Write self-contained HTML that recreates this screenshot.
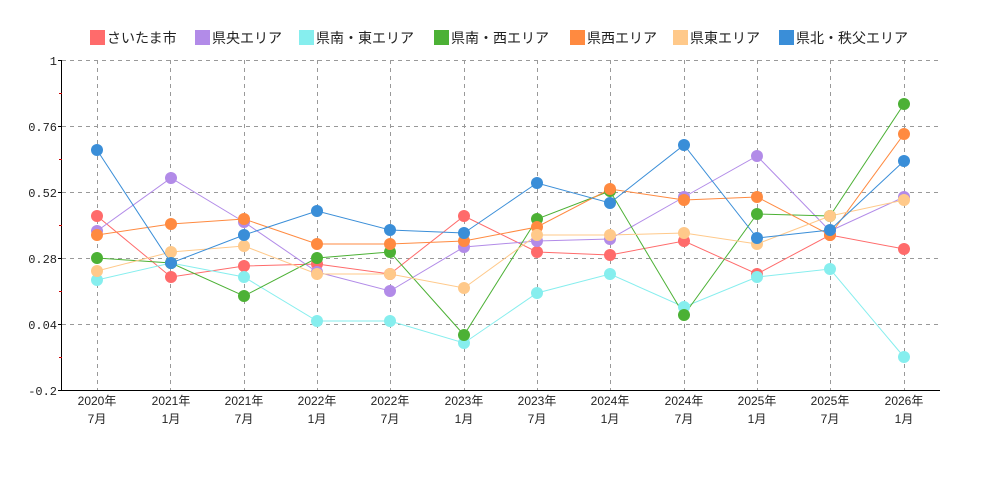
<!DOCTYPE html><html><head><meta charset="utf-8"><style>body{margin:0;background:#fff}svg{display:block;font-family:"Liberation Mono","Noto Sans CJK JP",monospace}</style></head><body>
<svg width="1000" height="500" xmlns="http://www.w3.org/2000/svg">
<g font-size="14" font-family="Liberation Sans,Noto Sans CJK JP,sans-serif" fill="#222">
<rect x="90" y="30" width="15" height="15" fill="#ff6b6b"/><text x="107" y="43">さいたま市</text>
<rect x="195" y="30" width="15" height="15" fill="#b28be8"/><text x="212" y="43">県央エリア</text>
<rect x="299" y="30" width="15" height="15" fill="#86eeee"/><text x="316" y="43">県南・東エリア</text>
<rect x="434" y="30" width="15" height="15" fill="#4cb135"/><text x="451" y="43">県南・西エリア</text>
<rect x="570" y="30" width="15" height="15" fill="#ff8a40"/><text x="587" y="43">県西エリア</text>
<rect x="673" y="30" width="15" height="15" fill="#ffc98a"/><text x="690" y="43">県東エリア</text>
<rect x="779" y="30" width="15" height="15" fill="#3a8ed8"/><text x="796" y="43">県北・秩父エリア</text>
</g>
<g stroke="#999" stroke-dasharray="4,4" stroke-width="1">
<line x1="62" x2="940" y1="60.5" y2="60.5"/><line x1="62" x2="940" y1="126.5" y2="126.5"/><line x1="62" x2="940" y1="192.5" y2="192.5"/><line x1="62" x2="940" y1="258.5" y2="258.5"/><line x1="62" x2="940" y1="324.5" y2="324.5"/>
<line x1="97.5" x2="97.5" y1="60" y2="390"/><line x1="170.5" x2="170.5" y1="60" y2="390"/><line x1="244.5" x2="244.5" y1="60" y2="390"/><line x1="317.5" x2="317.5" y1="60" y2="390"/><line x1="390.5" x2="390.5" y1="60" y2="390"/><line x1="464.5" x2="464.5" y1="60" y2="390"/><line x1="537.5" x2="537.5" y1="60" y2="390"/><line x1="610.5" x2="610.5" y1="60" y2="390"/><line x1="684.5" x2="684.5" y1="60" y2="390"/><line x1="757.5" x2="757.5" y1="60" y2="390"/><line x1="830.5" x2="830.5" y1="60" y2="390"/><line x1="904.5" x2="904.5" y1="60" y2="390"/>
</g>
<g stroke="#000"><line x1="61.5" x2="61.5" y1="60" y2="390"/><line x1="61" x2="940" y1="390.5" y2="390.5"/>
<line x1="58" x2="62" y1="60.5" y2="60.5"/><line x1="58" x2="62" y1="126.5" y2="126.5"/><line x1="58" x2="62" y1="192.5" y2="192.5"/><line x1="58" x2="62" y1="258.5" y2="258.5"/><line x1="58" x2="62" y1="324.5" y2="324.5"/><line x1="58" x2="62" y1="390.5" y2="390.5"/></g>
<g stroke="#c00"><line x1="59" x2="62" y1="93.5" y2="93.5"/><line x1="59" x2="62" y1="159.5" y2="159.5"/><line x1="59" x2="62" y1="225.5" y2="225.5"/><line x1="59" x2="62" y1="291.5" y2="291.5"/><line x1="59" x2="62" y1="357.5" y2="357.5"/></g>
<g font-size="12" fill="#222" text-anchor="end"><text x="57" y="65">1</text><text x="57" y="131">0.76</text><text x="57" y="197">0.52</text><text x="57" y="263">0.28</text><text x="57" y="329">0.04</text><text x="57" y="395">-0.2</text></g>
<g font-size="12" fill="#222" text-anchor="middle" font-family="Liberation Sans,Noto Sans CJK JP,sans-serif">
<text x="97" y="405">2020年</text><text x="97" y="423">7月</text>
<text x="171" y="405">2021年</text><text x="171" y="423">1月</text>
<text x="244" y="405">2021年</text><text x="244" y="423">7月</text>
<text x="317" y="405">2022年</text><text x="317" y="423">1月</text>
<text x="390" y="405">2022年</text><text x="390" y="423">7月</text>
<text x="464" y="405">2023年</text><text x="464" y="423">1月</text>
<text x="537" y="405">2023年</text><text x="537" y="423">7月</text>
<text x="610" y="405">2024年</text><text x="610" y="423">1月</text>
<text x="684" y="405">2024年</text><text x="684" y="423">7月</text>
<text x="757" y="405">2025年</text><text x="757" y="423">1月</text>
<text x="830" y="405">2025年</text><text x="830" y="423">7月</text>
<text x="904" y="405">2026年</text><text x="904" y="423">1月</text>
</g>
<g fill="none" stroke-width="1">
<polyline stroke="#ff6b6b" points="97,216 171,277 244,266 317,264 390,274 464,216 537,252 610,255 684,241 757,274 830,235 904,249"/>
<polyline stroke="#b28be8" points="97,231 171,178 244,222 317,272 390,291 464,247 537,241 610,239 684,197 757,156 830,231 904,197"/>
<polyline stroke="#86eeee" points="97,280 171,263 244,277 317,321 390,321 464,343 537,293 610,274 684,307 757,277 830,269 904,357"/>
<polyline stroke="#4cb135" points="97,258 171,263 244,296 317,258 390,252 464,335 537,219 610,191 684,315 757,214 830,216 904,104"/>
<polyline stroke="#ff8a40" points="97,235 171,224 244,219 317,244 390,244 464,241 537,227 610,189 684,200 757,197 830,235 904,134"/>
<polyline stroke="#ffc98a" points="97,271 171,252 244,246 317,274 390,274 464,288 537,235 610,235 684,233 757,244 830,216 904,200"/>
<polyline stroke="#3a8ed8" points="97,150 171,263 244,235 317,211 390,230 464,233 537,183 610,203 684,145 757,238 830,230 904,161"/>
</g>
<g fill="#ff6b6b"><circle cx="97" cy="216" r="6"/><circle cx="171" cy="277" r="6"/><circle cx="244" cy="266" r="6"/><circle cx="317" cy="264" r="6"/><circle cx="390" cy="274" r="6"/><circle cx="464" cy="216" r="6"/><circle cx="537" cy="252" r="6"/><circle cx="610" cy="255" r="6"/><circle cx="684" cy="241" r="6"/><circle cx="757" cy="274" r="6"/><circle cx="830" cy="235" r="6"/><circle cx="904" cy="249" r="6"/></g>
<g fill="#b28be8"><circle cx="97" cy="231" r="6"/><circle cx="171" cy="178" r="6"/><circle cx="244" cy="222" r="6"/><circle cx="317" cy="272" r="6"/><circle cx="390" cy="291" r="6"/><circle cx="464" cy="247" r="6"/><circle cx="537" cy="241" r="6"/><circle cx="610" cy="239" r="6"/><circle cx="684" cy="197" r="6"/><circle cx="757" cy="156" r="6"/><circle cx="830" cy="231" r="6"/><circle cx="904" cy="197" r="6"/></g>
<g fill="#86eeee"><circle cx="97" cy="280" r="6"/><circle cx="171" cy="263" r="6"/><circle cx="244" cy="277" r="6"/><circle cx="317" cy="321" r="6"/><circle cx="390" cy="321" r="6"/><circle cx="464" cy="343" r="6"/><circle cx="537" cy="293" r="6"/><circle cx="610" cy="274" r="6"/><circle cx="684" cy="307" r="6"/><circle cx="757" cy="277" r="6"/><circle cx="830" cy="269" r="6"/><circle cx="904" cy="357" r="6"/></g>
<g fill="#4cb135"><circle cx="97" cy="258" r="6"/><circle cx="171" cy="263" r="6"/><circle cx="244" cy="296" r="6"/><circle cx="317" cy="258" r="6"/><circle cx="390" cy="252" r="6"/><circle cx="464" cy="335" r="6"/><circle cx="537" cy="219" r="6"/><circle cx="610" cy="191" r="6"/><circle cx="684" cy="315" r="6"/><circle cx="757" cy="214" r="6"/><circle cx="830" cy="216" r="6"/><circle cx="904" cy="104" r="6"/></g>
<g fill="#ff8a40"><circle cx="97" cy="235" r="6"/><circle cx="171" cy="224" r="6"/><circle cx="244" cy="219" r="6"/><circle cx="317" cy="244" r="6"/><circle cx="390" cy="244" r="6"/><circle cx="464" cy="241" r="6"/><circle cx="537" cy="227" r="6"/><circle cx="610" cy="189" r="6"/><circle cx="684" cy="200" r="6"/><circle cx="757" cy="197" r="6"/><circle cx="830" cy="235" r="6"/><circle cx="904" cy="134" r="6"/></g>
<g fill="#ffc98a"><circle cx="97" cy="271" r="6"/><circle cx="171" cy="252" r="6"/><circle cx="244" cy="246" r="6"/><circle cx="317" cy="274" r="6"/><circle cx="390" cy="274" r="6"/><circle cx="464" cy="288" r="6"/><circle cx="537" cy="235" r="6"/><circle cx="610" cy="235" r="6"/><circle cx="684" cy="233" r="6"/><circle cx="757" cy="244" r="6"/><circle cx="830" cy="216" r="6"/><circle cx="904" cy="200" r="6"/></g>
<g fill="#3a8ed8"><circle cx="97" cy="150" r="6"/><circle cx="171" cy="263" r="6"/><circle cx="244" cy="235" r="6"/><circle cx="317" cy="211" r="6"/><circle cx="390" cy="230" r="6"/><circle cx="464" cy="233" r="6"/><circle cx="537" cy="183" r="6"/><circle cx="610" cy="203" r="6"/><circle cx="684" cy="145" r="6"/><circle cx="757" cy="238" r="6"/><circle cx="830" cy="230" r="6"/><circle cx="904" cy="161" r="6"/></g>
</svg></body></html>
